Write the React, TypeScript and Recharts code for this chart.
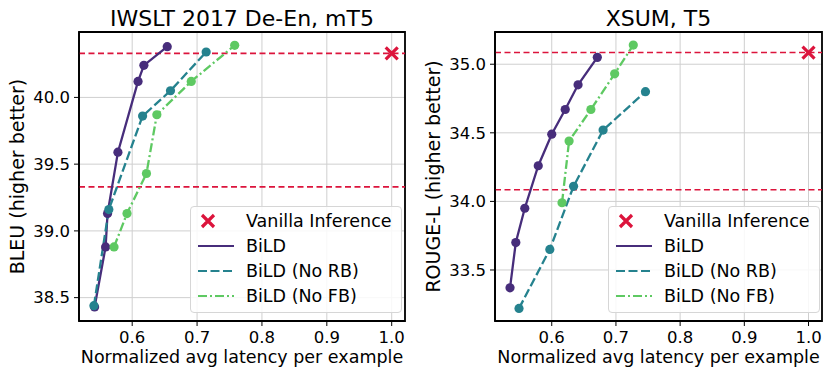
import React from 'react'
import {
  ComposedChart, Line, Scatter, XAxis, YAxis, CartesianGrid, ReferenceLine, ReferenceArea, Label, Legend,
} from 'recharts'

// IWSLT 2017 De-En, mT5
const iwsltBildLatency = [0.542, 0.559, 0.562, 0.578, 0.609, 0.618, 0.654]
const iwsltBildScore = [38.43, 38.88, 39.13, 39.59, 40.12, 40.24, 40.38]
const iwsltNoRbLatency = [0.541, 0.564, 0.616, 0.659, 0.714]
const iwsltNoRbScore = [38.44, 39.16, 39.86, 40.05, 40.34]
const iwsltNoFbLatency = [0.572, 0.592, 0.622, 0.638, 0.691, 0.758]
const iwsltNoFbScore = [38.88, 39.13, 39.43, 39.87, 40.12, 40.39]
const iwsltVanilla = { latency: 1.0, score: 40.33 }
const iwsltYTicks = [38.5, 39.0, 39.5, 40.0]

// XSUM, T5
const xsumBildLatency = [0.535, 0.544, 0.558, 0.579, 0.6, 0.621, 0.641, 0.671]
const xsumBildScore = [33.37, 33.7, 33.95, 34.26, 34.49, 34.67, 34.85, 35.05]
const xsumNoRbLatency = [0.549, 0.597, 0.634, 0.68, 0.746]
const xsumNoRbScore = [33.22, 33.65, 34.11, 34.52, 34.8]
const xsumNoFbLatency = [0.616, 0.627, 0.661, 0.698, 0.727]
const xsumNoFbScore = [33.99, 34.44, 34.67, 34.93, 35.14]
const xsumVanilla = { latency: 1.0, score: 35.085 }
const xsumYTicks = [33.5, 34.0, 34.5, 35.0]

const xTicks = [0.6, 0.7, 0.8, 0.9, 1.0]
const seriesNames = ['BiLD', 'BiLD (No RB)', 'BiLD (No FB)']
const vanillaName = 'Vanilla Inference'

const FONT = '"DejaVu Sans", sans-serif'
const RED = '#dc143c'
const COLORS = ['#472d7b', '#25828e', '#5ec962']
const DASHES = ['', '9 3.5', '9 3 2 3']

const zip = (xs: number[], ys: number[]) => xs.map((x, i) => ({ x, y: ys[i] }))

function CrossMark(props: any) {
  const { cx, cy } = props
  const s = 6
  return (
    <path
      d={`M${cx - s},${cy - s}L${cx + s},${cy + s}M${cx - s},${cy + s}L${cx + s},${cy - s}`}
      stroke={RED}
      strokeWidth={3.2}
      fill="none"
    />
  )
}

function LegendBox() {
  const rowY = [14, 39, 64, 89]
  return (
    <div
      style={{
        width: '100%', height: '100%', boxSizing: 'border-box', position: 'relative',
        background: 'rgba(255,255,255,0.85)', border: '1px solid #d6d6d6', borderRadius: 4,
        fontFamily: FONT, fontSize: 17.5, color: '#000',
      }}
    >
      <svg width={50} height={106} style={{ position: 'absolute', left: 0, top: 0 }}>
        <CrossMark cx={17} cy={rowY[0]} />
        {seriesNames.map((n, i) => (
          <line key={n} x1={7} x2={43} y1={rowY[i + 1]} y2={rowY[i + 1]}
            stroke={COLORS[i]} strokeWidth={2.2} strokeDasharray={DASHES[i]} />
        ))}
      </svg>
      {[vanillaName, ...seriesNames].map((t, i) => (
        <div key={t} style={{ position: 'absolute', left: 55, top: rowY[i] - 11, lineHeight: '22px', whiteSpace: 'nowrap' }}>
          {t}
        </div>
      ))}
    </div>
  )
}

interface PanelProps {
  title: string
  yLabel: string
  width: number
  yAxisWidth: number
  rightMargin: number
  xDomain: [number, number]
  yDomain: [number, number]
  yTicks: number[]
  series: { x: number; y: number }[][]
  vanilla: { latency: number; score: number }
  legendLeft: number
  yLabelOffset: number
}

function Panel(p: PanelProps) {
  const tickStyle = { fontSize: 16.5, fill: '#000', fontFamily: FONT }
  return (
    <ComposedChart
      width={p.width}
      height={377}
      margin={{ top: 32, right: p.rightMargin, left: 0, bottom: 0 }}
    >
      <CartesianGrid stroke="#cfcfcf" strokeWidth={1} />
      <XAxis
        type="number" dataKey="x" domain={p.xDomain} ticks={xTicks} allowDataOverflow
        height={56} tickSize={5} tickMargin={5} tick={tickStyle}
        tickFormatter={(v: number) => v.toFixed(1)}
        stroke="#000" axisLine={{ stroke: '#000', strokeWidth: 1.6 }}
      >
        <Label value="Normalized avg latency per example" position="insideBottom" offset={14}
          style={{ fontSize: 17.5, fill: '#000', fontFamily: FONT }} />
      </XAxis>
      <YAxis
        type="number" domain={p.yDomain} ticks={p.yTicks} allowDataOverflow
        width={p.yAxisWidth} tickSize={5} tickMargin={4} tick={tickStyle}
        tickFormatter={(v: number) => v.toFixed(1)}
        stroke="#000" axisLine={{ stroke: '#000', strokeWidth: 1.6 }}
      >
        <Label value={p.yLabel} angle={-90} position="insideLeft" offset={p.yLabelOffset}
          style={{ fontSize: 19, fill: '#000', fontFamily: FONT, textAnchor: 'middle' }} />
      </YAxis>
      <ReferenceArea
        x1={p.xDomain[0]} x2={p.xDomain[1]} y1={p.yDomain[0]} y2={p.yDomain[1]}
        fill="none" fillOpacity={0} stroke="#000" strokeWidth={1.8} strokeOpacity={1}
      >
        <Label value={p.title} position="top" offset={6}
          style={{ fontSize: 22, fill: '#000', fontFamily: FONT }} />
      </ReferenceArea>
      <ReferenceLine y={p.vanilla.score} stroke={RED} strokeWidth={1.6} strokeDasharray="6 3.5" />
      <ReferenceLine y={p.vanilla.score - 1} stroke={RED} strokeWidth={1.6} strokeDasharray="6 3.5" />
      {p.series.map((data, i) => (
        <Line
          key={seriesNames[i]}
          name={seriesNames[i]}
          data={data}
          dataKey="y"
          type="linear"
          stroke={COLORS[i]}
          strokeWidth={2.3}
          strokeDasharray={DASHES[i]}
          dot={{ r: 4.6, fill: COLORS[i], stroke: COLORS[i], strokeWidth: 0, strokeDasharray: '' }}
          activeDot={false}
          isAnimationActive={false}
        />
      ))}
      <Scatter
        name={vanillaName}
        data={[{ x: p.vanilla.latency, y: p.vanilla.score }]}
        dataKey="y"
        shape={<CrossMark />}
        isAnimationActive={false}
      />
      <Legend
        layout="horizontal"
        verticalAlign="middle"
        content={() => <LegendBox />}
        wrapperStyle={{ position: 'absolute', left: p.legendLeft, top: 206, width: 212, height: 107 }}
      />
    </ComposedChart>
  )
}

export default function App() {
  return (
    <div style={{ position: 'absolute', left: 0, top: 0, width: 831, height: 377, background: '#fff', fontFamily: FONT }}>
      <div style={{ position: 'absolute', left: 0, top: 0 }}>
        <Panel
          title="IWSLT 2017 De-En, mT5"
          yLabel="BLEU (higher better)"
          width={415}
          yAxisWidth={79}
          rightMargin={10}
          xDomain={[0.518, 1.0205]}
          yDomain={[38.325, 40.49]}
          yTicks={iwsltYTicks}
          series={[
            zip(iwsltBildLatency, iwsltBildScore),
            zip(iwsltNoRbLatency, iwsltNoRbScore),
            zip(iwsltNoFbLatency, iwsltNoFbScore),
          ]}
          vanilla={iwsltVanilla}
          legendLeft={190}
          yLabelOffset={17}
        />
      </div>
      <div style={{ position: 'absolute', left: 415, top: 0 }}>
        <Panel
          title="XSUM, T5"
          yLabel="ROUGE-L (higher better)"
          width={416}
          yAxisWidth={80}
          rightMargin={9}
          xDomain={[0.5116, 1.021]}
          yDomain={[33.128, 35.235]}
          yTicks={xsumYTicks}
          series={[
            zip(xsumBildLatency, xsumBildScore),
            zip(xsumNoRbLatency, xsumNoRbScore),
            zip(xsumNoFbLatency, xsumNoFbScore),
          ]}
          vanilla={xsumVanilla}
          legendLeft={193}
          yLabelOffset={18}
        />
      </div>
    </div>
  )
}
